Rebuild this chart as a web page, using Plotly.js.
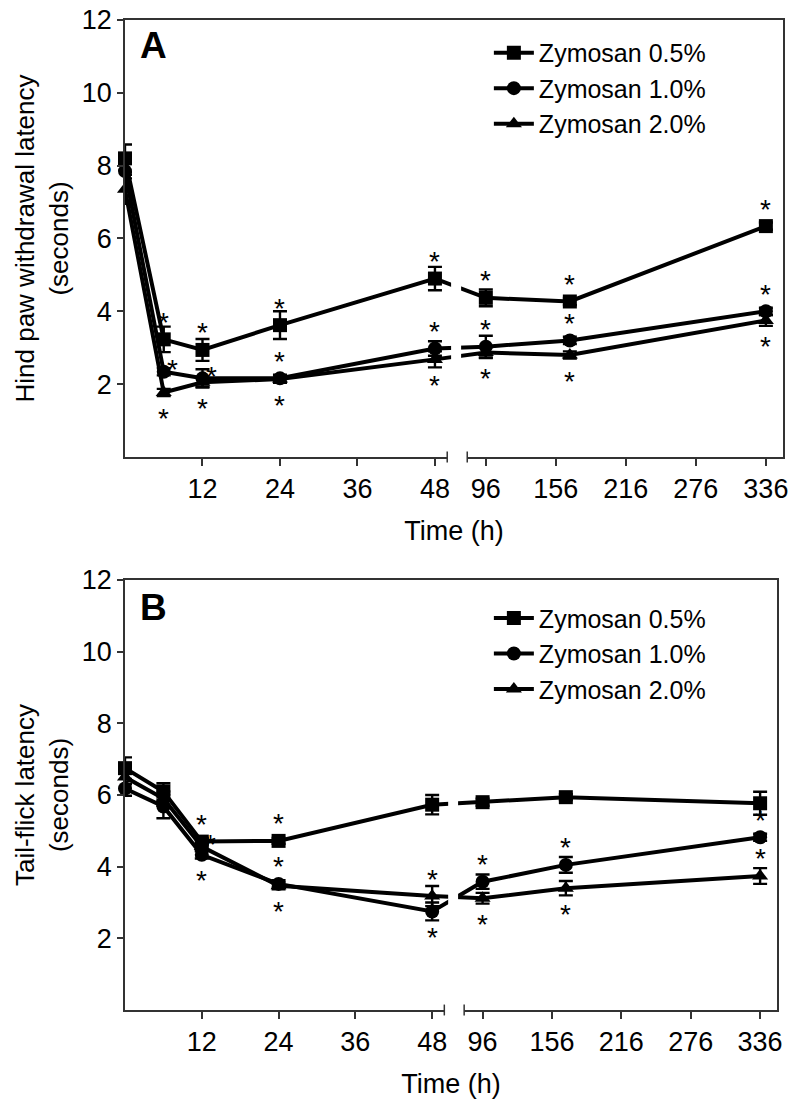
<!DOCTYPE html>
<html>
<head>
<meta charset="utf-8">
<script src="https://cdn.plot.ly/plotly-3.0.1.min.js"></script>
<style>
body { margin: 0; background: #fff; }
#chart { width: 800px; height: 1102px; }
</style>
</head>
<body>
<div id="chart"></div>
<script>
var hours = [0, 6, 12, 24, 48, 96, 168, 336];
var tickHours = [12, 24, 36, 48, 96, 156, 216, 276, 336];
var names = ['Zymosan 0.5%', 'Zymosan 1.0%', 'Zymosan 2.0%'];

// panel A - hind paw withdrawal latency (seconds)
var pawLow = [8.2, 3.23, 2.94, 3.62, 4.9, 4.37, 4.27, 6.34];
var pawLowErr = [0.38, 0.35, 0.3, 0.38, 0.32, 0.23, 0.1, 0.1];
var pawMid = [7.85, 2.34, 2.16, 2.16, 2.98, 3.03, 3.2, 4.0];
var pawMidErr = [0.2, 0.1, 0.25, 0.1, 0.2, 0.3, 0.1, 0.1];
var pawHigh = [7.35, 1.77, 2.05, 2.14, 2.68, 2.87, 2.8, 3.75];
var pawHighErr = [0.4, 0.1, 0.12, 0.1, 0.22, 0.15, 0.1, 0.15];
var pawLowSig = ['', 'up', 'up', 'up', 'up', 'up', 'up', 'up'];
var pawMidSig = ['', 'right', 'right', 'up', 'up', 'up', 'up', 'up'];
var pawHighSig = ['', 'down', 'down', 'down', 'down', 'down', 'down', 'down'];

// panel B - tail-flick latency (seconds)
var tailLow = [6.75, 6.1, 4.7, 4.72, 5.73, 5.8, 5.94, 5.77];
var tailLowErr = [0.3, 0.23, 0.1, 0.08, 0.27, 0.1, 0.08, 0.32];
var tailMid = [6.18, 5.68, 4.33, 3.52, 2.75, 3.58, 4.05, 4.82];
var tailMidErr = [0.2, 0.33, 0.1, 0.1, 0.25, 0.2, 0.22, 0.1];
var tailHigh = [6.5, 5.9, 4.56, 3.47, 3.18, 3.12, 3.4, 3.74];
var tailHighErr = [0.2, 0.2, 0.1, 0.1, 0.28, 0.15, 0.2, 0.22];
var tailLowSig = ['', '', 'up', 'up', '', '', '', ''];
var tailMidSig = ['', '', 'down', 'up', 'down', 'up', 'up', 'up'];
var tailHighSig = ['', '', 'right', 'down', 'up', 'down', 'down', 'up'];

// broken time axis: 0-48 h linear, then 96-336 h compressed
var U96 = 55.88, RSLOPE = 0.1807, XMAX = 101.9;
function toAxis(t) {
  return t <= 48 ? t : U96 + (t - 96) * RSLOPE;
}
var xs = hours.map(toAxis);

var FONT = 'Liberation Sans, Arial, sans-serif';
var symbols = ['square', 'circle', 'triangle-up'];

function series(vals, errs, i, xa, ya, leg) {
  return {
    x: xs, y: vals, name: names[i],
    xaxis: xa, yaxis: ya, legend: leg,
    type: 'scatter', mode: 'lines+markers', cliponaxis: false,
    line: {color: '#000', width: 4},
    marker: {symbol: symbols[i], size: 14, color: '#000'},
    error_y: {type: 'data', array: errs, visible: true, color: '#000', thickness: 2.4, width: 7}
  };
}

var data = [
  series(pawLow, pawLowErr, 0, 'x', 'y', 'legend'),
  series(pawMid, pawMidErr, 1, 'x', 'y', 'legend'),
  series(pawHigh, pawHighErr, 2, 'x', 'y', 'legend'),
  series(tailLow, tailLowErr, 0, 'x2', 'y2', 'legend2'),
  series(tailMid, tailMidErr, 1, 'x2', 'y2', 'legend2'),
  series(tailHigh, tailHighErr, 2, 'x2', 'y2', 'legend2')
];

var starShift = {up: [0, 17], down: [0, -26], right: [9, 2]};
var annotations = [];
function stars(vals, sig, xa, ya) {
  sig.forEach(function (s, k) {
    if (!s) return;
    annotations.push({
      x: xs[k], y: vals[k], xref: xa, yref: ya, text: '*', showarrow: false,
      xshift: starShift[s][0], yshift: starShift[s][1],
      font: {family: FONT, size: 28, color: '#000'}
    });
  });
}
stars(pawLow, pawLowSig, 'x', 'y');
stars(pawMid, pawMidSig, 'x', 'y');
stars(pawHigh, pawHighSig, 'x', 'y');
stars(tailLow, tailLowSig, 'x2', 'y2');
stars(tailMid, tailMidSig, 'x2', 'y2');
stars(tailHigh, tailHighSig, 'x2', 'y2');

var domA = [0.5586, 1], domB = [0, 0.4343];
var xdomA = [0, 1], xdomB = [0, 0.991];

annotations.push({xref: 'paper', yref: 'paper', x: 0.02, y: 0.974, xanchor: 'left', yanchor: 'middle',
  text: '<b>A</b>', showarrow: false, font: {family: FONT, size: 37, color: '#000'}});
annotations.push({xref: 'paper', yref: 'paper', x: 0.02, y: 0.407, xanchor: 'left', yanchor: 'middle',
  text: '<b>B</b>', showarrow: false, font: {family: FONT, size: 37, color: '#000'}});

// axis break decorations
var shapes = [];
function brk(xa, ya, xdom, ybase) {
  function px(u) { return xdom[0] + u / XMAX * (xdom[1] - xdom[0]); }
  var a = px(49.9), b = px(53.0);
  shapes.push({type: 'rect', xref: 'paper', yref: 'paper', x0: a, x1: b, y0: ybase - 0.012, y1: ybase + 0.012,
    fillcolor: '#fff', line: {width: 0}, layer: 'above'});
  shapes.push({type: 'rect', xref: xa, yref: ya, x0: 50.5, x1: 52.05, y0: 0.5, y1: 11.5,
    fillcolor: '#fff', line: {width: 0}, layer: 'above'});
  [a, b].forEach(function (p) {
    shapes.push({type: 'line', xref: 'paper', yref: 'paper', x0: p, x1: p, y0: ybase - 0.0055, y1: ybase + 0.0055,
      line: {color: '#333', width: 1.5}, layer: 'above'});
  });
}
brk('x', 'y', xdomA, domA[0]);
brk('x2', 'y2', xdomB, domB[0]);

function xAxis(dom, anchor) {
  return {
    domain: dom, anchor: anchor, range: [0, XMAX],
    showline: true, mirror: true, linecolor: '#333', linewidth: 1.5,
    ticks: 'outside', ticklen: 7, tickwidth: 1.5, tickcolor: '#333',
    tickvals: tickHours.map(toAxis), ticktext: tickHours.map(String),
    tickfont: {family: FONT, size: 27, color: '#000'},
    showgrid: false, zeroline: false,
    title: {text: 'Time (h)', font: {family: FONT, size: 27, color: '#000'}, standoff: 18}
  };
}
function yAxis(dom, anchor, title) {
  return {
    domain: dom, anchor: anchor, range: [0, 12],
    showline: true, mirror: true, linecolor: '#333', linewidth: 1.5,
    ticks: 'outside', ticklen: 6, tickwidth: 1.5, tickcolor: '#333',
    tickvals: [2, 4, 6, 8, 10, 12],
    tickfont: {family: FONT, size: 27, color: '#000'},
    showgrid: false, zeroline: false,
    title: {text: title, font: {family: FONT, size: 26, color: '#000'}, standoff: 6}
  };
}

var legendStyle = {
  xanchor: 'left', yanchor: 'top', bgcolor: 'rgba(0,0,0,0)', borderwidth: 0,
  font: {family: FONT, size: 25, color: '#000'}, tracegroupgap: 0, itemwidth: 40
};

var layout = {
  width: 800, height: 1102,
  margin: {l: 125, r: 17, t: 20, b: 92},
  paper_bgcolor: '#fff', plot_bgcolor: '#fff',
  font: {family: FONT, color: '#000'},
  showlegend: true,
  xaxis: xAxis(xdomA, 'y'),
  yaxis: yAxis(domA, 'x', 'Hind paw withdrawal latency<br>(seconds)'),
  xaxis2: xAxis(xdomB, 'y2'),
  yaxis2: yAxis(domB, 'x2', 'Tail-flick latency<br>(seconds)'),
  legend: Object.assign({x: 0.553, y: 0.99}, legendStyle),
  legend2: Object.assign({x: 0.553, y: 0.419}, legendStyle),
  annotations: annotations,
  shapes: shapes
};

Plotly.newPlot('chart', data, layout, {displayModeBar: false, responsive: false});
</script>
</body>
</html>
